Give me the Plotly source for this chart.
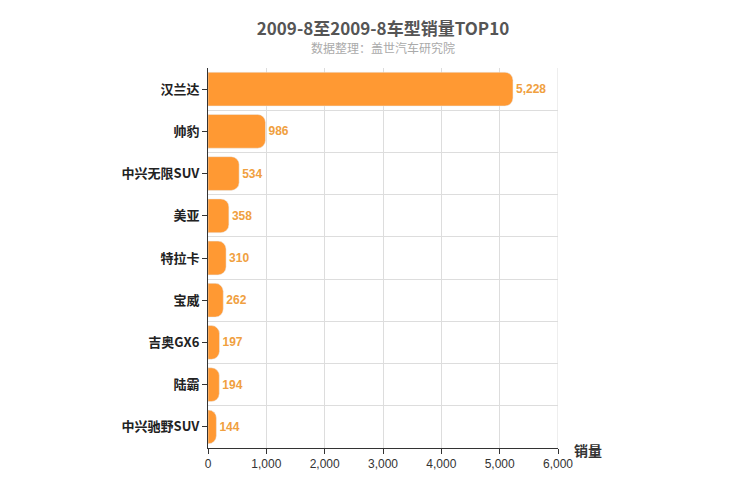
import plotly.graph_objects as go

models = ["汉兰达", "帅豹", "中兴无限SUV", "美亚", "特拉卡", "宝威", "吉奥GX6", "陆霸", "中兴驰野SUV"]
sales = [5228, 986, 534, 358, 310, 262, 197, 194, 144]

n = len(models)
ypos = list(range(n - 1, -1, -1))

fig = go.Figure(go.Bar(
    x=sales, y=ypos, orientation="h", width=0.8,
    marker=dict(color="#FF9933", cornerradius=8),
    text=[f"<b>{v:,}</b>" for v in sales], textposition="outside",
    textfont=dict(color="#F0A040", size=12, family="Arial"),
    cliponaxis=False,
))
fig.update_layout(
    width=750, height=500, plot_bgcolor="white", paper_bgcolor="white",
    margin=dict(l=200, r=200, t=60, b=60),
    font=dict(family="Noto Sans CJK SC, Arial", color="#333"),
    title=dict(text="<b>2009-8至2009-8车型销量TOP10</b>", x=0.5, xanchor="center", y=0.97,
               font=dict(size=17, color="#555")),
    showlegend=False,
    annotations=[
        dict(text="数据整理：盖世汽车研究院", x=0.5, xref="paper", y=1.055, yref="paper",
             yanchor="middle", showarrow=False, font=dict(size=12, color="#aaa")),
        dict(text="<b>销量</b>", xref="paper", yref="paper", x=1.04, y=-0.005, xanchor="left",
             yanchor="middle", showarrow=False, font=dict(size=14, color="#333")),
    ],
)
fig.update_xaxes(range=[0, 6000], dtick=1000, tickformat=",", showgrid=True, gridcolor="#ddd",
                 showline=True, linecolor="#333", ticks="outside", ticklen=5, tickcolor="#333",
                 tickfont=dict(size=12, family="Arial"), zeroline=False, automargin=False)
fig.update_yaxes(range=[-0.5, n - 0.5], tickvals=ypos, ticktext=[f"<b>{m}</b>" for m in models],
                 showgrid=False, automargin=False,
                 showline=True, linecolor="#333", ticks="outside", ticklen=5, tickcolor="#333",
                 tickfont=dict(size=13, color="#222"),
                 minor=dict(tick0=0.5, dtick=1, showgrid=True, gridcolor="#ddd"))
fig.add_shape(type="line", xref="x", yref="paper", x0=6000, x1=6000, y0=0, y1=1,
              line=dict(color="#ddd", width=1))
fig.write_html("out.html")
